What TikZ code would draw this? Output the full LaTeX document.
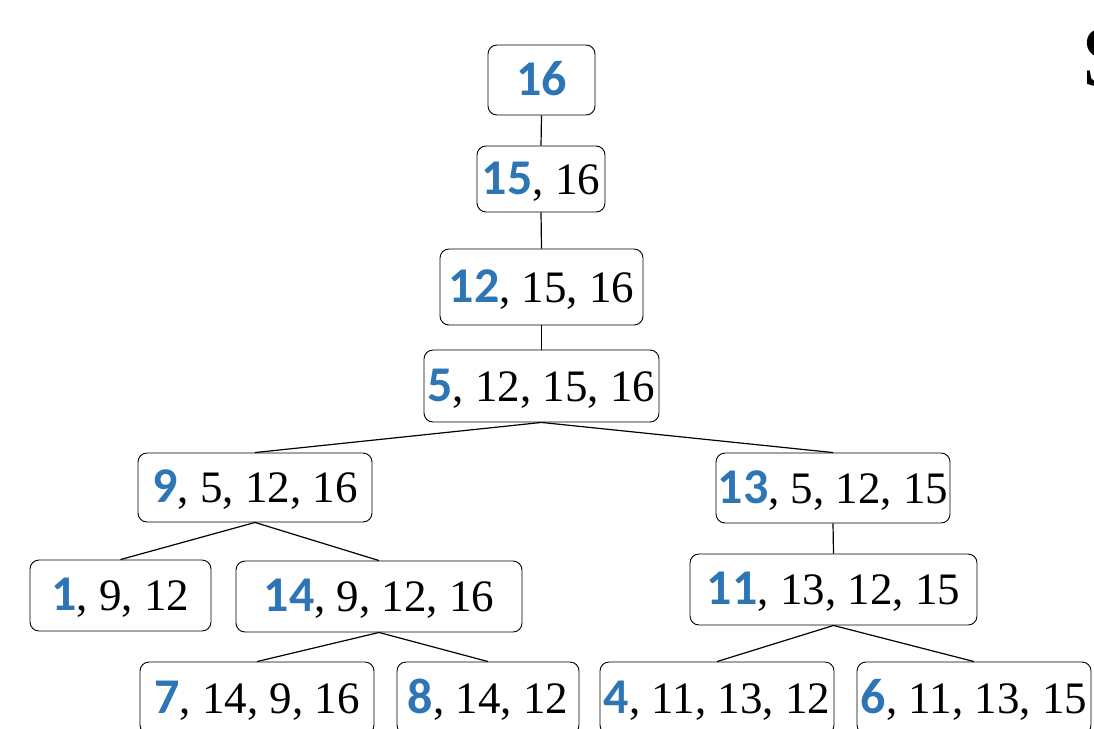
\documentclass[tikz,border=0pt]{standalone}
\usepackage{fontspec}
\setmainfont{Liberation Serif}
\newfontfamily\bluefont{Carlito}
\definecolor{nblue}{RGB}{46,117,182}
\newcommand{\hl}[1]{{\bluefont\fontsize{50}{56}\selectfont\bfseries\color{nblue}#1}}
\tikzset{
  box/.style={draw, rounded corners=9pt, line width=0.9pt, inner sep=0pt,
    font=\fontsize{45}{50}\selectfont, anchor=center, text height=30pt, text depth=-2pt},
  link/.style={line width=1.2pt}
}
\begin{document}
\begin{tikzpicture}[x=1pt,y=-1pt]
\useasboundingbox[fill=white] (0,0) rectangle (1094,728);
\node[box, minimum width=107pt, minimum height=70pt] (a) at (541.5,80) {\hl{16}};
\node[box, minimum width=128pt, minimum height=66pt] (b) at (541,179) {\hl{15}, 16};
\node[box, minimum width=203pt, minimum height=76pt] (c) at (541.5,287) {\hl{12}, 15, 16};
\node[box, minimum width=235pt, minimum height=72pt] (d) at (541.5,386) {\hl{5}, 12, 15, 16};
\node[box, minimum width=234pt, minimum height=69pt] (e) at (255,487.5) {\hl{9}, 5, 12, 16};
\node[box, minimum width=234pt, minimum height=70pt] (f) at (833,488) {\hl{13}, 5, 12, 15};
\node[box, minimum width=181pt, minimum height=71pt] (g) at (120.5,595.5) {\hl{1}, 9, 12};
\node[box, minimum width=286pt, minimum height=71pt] (h) at (379,596.5) {\hl{14}, 9, 12, 16};
\node[box, minimum width=287pt, minimum height=71pt] (i) at (833.5,589.5) {\hl{11}, 13, 12, 15};
\node[box, minimum width=234pt, minimum height=72pt] (j) at (257,698) {\hl{7}, 14, 9, 16};
\node[box, minimum width=182pt, minimum height=72pt] (k) at (488,698) {\hl{8}, 14, 12};
\node[box, minimum width=234pt, minimum height=72pt] (l) at (717,698) {\hl{4}, 11, 13, 12};
\node[box, minimum width=234pt, minimum height=72pt] (m) at (974,698) {\hl{6}, 11, 13, 15};
\node[anchor=west, inner sep=0pt, font=\fontsize{88}{90}\selectfont] (s) at (1081,58) {S};
\draw[link] (a.south) -- (b.north);
\draw[link] (b.south) -- (c.north);
\draw[link] (c.south) -- (d.north);
\draw[link] (d.south) -- (e.north);
\draw[link] (d.south) -- (f.north);
\draw[link] (e.south) -- (g.north);
\draw[link] (e.south) -- (h.north);
\draw[link] (f.south) -- (i.north);
\draw[link] (h.south) -- (j.north);
\draw[link] (h.south) -- (k.north);
\draw[link] (i.south) -- (l.north);
\draw[link] (i.south) -- (m.north);
\end{tikzpicture}
\end{document}
